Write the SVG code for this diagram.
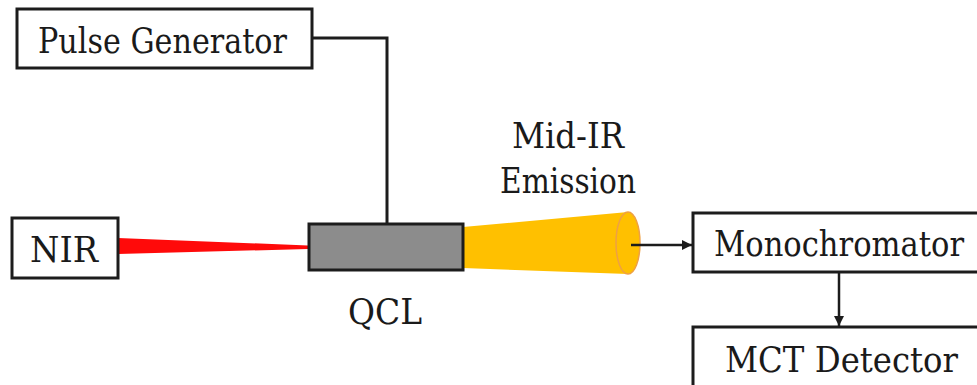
<svg xmlns="http://www.w3.org/2000/svg" width="977" height="385" viewBox="0 0 977 385">
<defs>
<style>
.box{fill:#fff;stroke:#1c1c1c;stroke-width:3}
text{font-family:'DejaVu Serif',serif;font-size:36px;fill:#1a1a1a}
.wire{fill:none;stroke:#1c1c1c;stroke-width:3}
.arr{fill:none;stroke:#1c1c1c;stroke-width:2.5}
</style>
<marker id="ah" markerWidth="10" markerHeight="12" refX="10" refY="6" orient="auto" markerUnits="userSpaceOnUse">
<path d="M0,1 L10,6 L0,11 Z" fill="#1c1c1c"/>
</marker>
</defs>
<rect width="977" height="385" fill="#fff"/>
<g id="beams">
<polygon points="118,238 308,245.5 308,249 118,254" fill="#ff0a0a"/>
<polygon points="463,227 628,212 628,274 463,268" fill="#ffc000"/>
<ellipse cx="628" cy="243" rx="12" ry="31" fill="#ffc000" stroke="#eea044" stroke-width="1.5"/>
</g>
<g id="connectors">
<polyline class="wire" points="312,38 387,38 387,224"/>
<line class="arr" x1="631" y1="245" x2="692" y2="245" marker-end="url(#ah)"/>
<line class="arr" x1="839" y1="272" x2="839" y2="326" marker-end="url(#ah)"/>
</g>
<g id="pulse-generator">
<rect class="box" x="17" y="9" width="295" height="59"/>
<text x="38" y="53" textLength="249" lengthAdjust="spacingAndGlyphs">Pulse Generator</text>
</g>
<g id="nir">
<rect class="box" x="12" y="218" width="106" height="60"/>
<text x="30" y="262" textLength="68" lengthAdjust="spacingAndGlyphs">NIR</text>
</g>
<g id="qcl">
<rect x="309" y="224" width="154" height="46" fill="#8c8c8c" stroke="#1c1c1c" stroke-width="3"/>
<text x="348" y="324" textLength="74" lengthAdjust="spacingAndGlyphs">QCL</text>
</g>
<g id="mid-ir-label">
<text x="568" y="148" text-anchor="middle" textLength="112" lengthAdjust="spacingAndGlyphs">Mid-IR</text>
<text x="568" y="193" text-anchor="middle" textLength="136" lengthAdjust="spacingAndGlyphs">Emission</text>
</g>
<g id="monochromator">
<path class="box" d="M977,213 H693 V272 H977"/>
<text x="714" y="256" textLength="250" lengthAdjust="spacingAndGlyphs">Monochromator</text>
</g>
<g id="mct-detector">
<path class="box" d="M977,327 H693 V385"/>
<text x="725" y="372" textLength="233" lengthAdjust="spacingAndGlyphs">MCT Detector</text>
</g>
</svg>
